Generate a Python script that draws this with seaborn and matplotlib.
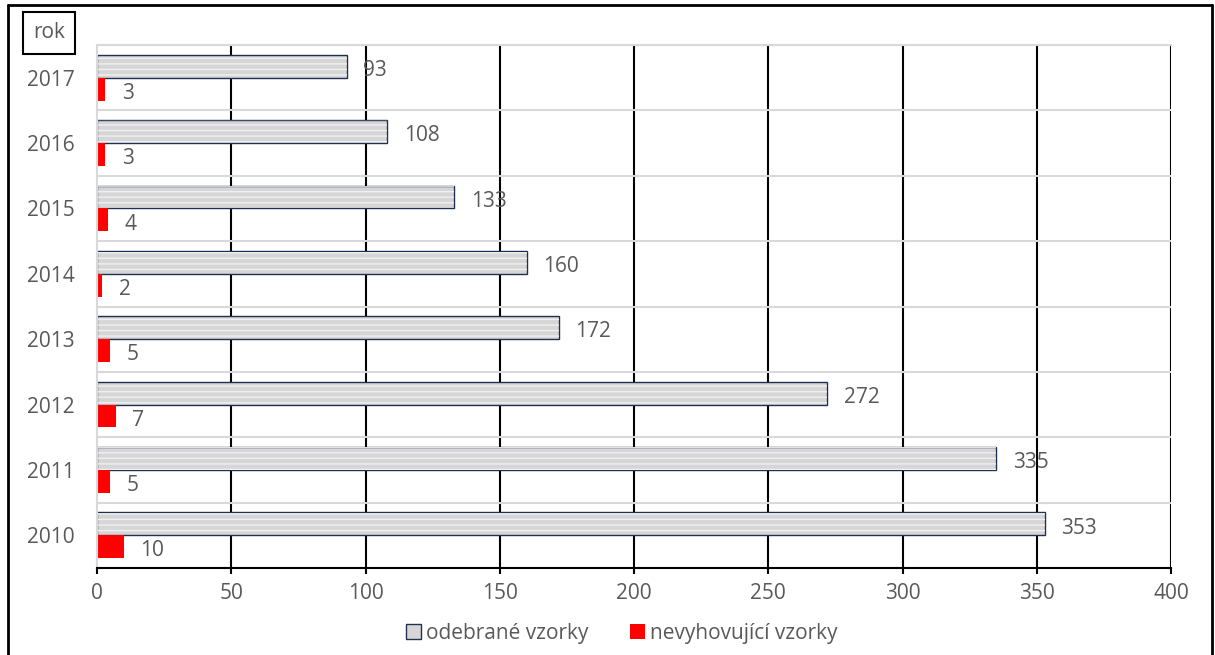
"""
odebrané a nevyhovující vzorky podle roku
"""
import pandas as pd
import matplotlib.pyplot as plt
import seaborn as sns
from matplotlib.patches import Patch, Rectangle
from matplotlib.lines import Line2D

# data
years = ['2017', '2016', '2015', '2014', '2013', '2012', '2011', '2010']
odebrane = [93, 108, 133, 160, 172, 272, 335, 353]
nevyhovujici = [3, 3, 4, 2, 5, 7, 5, 10]
series = ['odebrané vzorky', 'nevyhovující vzorky']
x_ticks = [0, 50, 100, 150, 200, 250, 300, 350, 400]

df = pd.concat([
    pd.DataFrame({'rok': years, 'serie': series[0], 'pocet': odebrane}),
    pd.DataFrame({'rok': years, 'serie': series[1], 'pocet': nevyhovujici}),
], ignore_index=True)

sns.set_style('white')
plt.rcParams['font.family'] = ['Open Sans', 'DejaVu Sans']
TXT = '#595959'
GRAY = '#d6d6d6'
EDGE = '#203050'
FS = 15

fig = plt.figure(figsize=(12.15, 6.55), dpi=100)
ax = fig.add_axes([97 / 1215, 1 - 568 / 655, (1171 - 97) / 1215, (568 - 45) / 655])

sns.barplot(data=df, y='rok', x='pocet', hue='serie', order=years, hue_order=series,
            palette=[GRAY, 'red'], width=0.7, orient='h', ax=ax, legend=False,
            saturation=1, errorbar=None)

# textura šedých sloupců
for p in ax.containers[0]:
    p.set_edgecolor(EDGE)
    p.set_linewidth(1)
    ax.add_patch(Rectangle(p.get_xy(), p.get_width(), p.get_height(), fill=False,
                           hatch='---', edgecolor='#f0f0f0', linewidth=0, zorder=p.get_zorder() + 0.1))
for p in ax.containers[1]:
    p.set_edgecolor('none')

for c in ax.containers:
    for t in ax.bar_label(c, padding=12, color=TXT, fontsize=FS):
        t.xyann = (12, -3)

ax.set_xlim(0, 400)
ax.set_ylim(len(years) - 0.5, -0.5)
ax.set_xticks(x_ticks)
ax.set_yticks(range(len(years)))
ax.set_yticks([i - 0.5 for i in range(len(years) + 1)], minor=True)
ax.grid(axis='x', color='black', linewidth=1.5)
ax.xaxis.get_gridlines()[0].set_visible(False)
ax.grid(axis='y', which='minor', color='#d9d9d9', linewidth=1.5)
ax.grid(axis='y', which='major', visible=False)
ax.set_axisbelow(True)

ax.set_xlabel('')
ax.set_ylabel('')
ax.tick_params(axis='x', which='major', direction='out', length=4.5, width=1.5, color='black',
               labelsize=FS, labelcolor=TXT, pad=6, bottom=True)
ax.tick_params(axis='y', which='both', length=0, labelsize=FS, labelcolor=TXT, pad=16)

for s in ['left', 'top']:
    ax.spines[s].set_color('#d9d9d9')
    ax.spines[s].set_linewidth(1.5)
ax.spines['right'].set_visible(False)
ax.spines['bottom'].set_color('black')
ax.spines['bottom'].set_linewidth(1.5)

# popisek osy v rámečku
fig.text(49 / 1215, 1 - 33 / 655, 'rok', ha='center', va='center', fontsize=FS, color=TXT,
         bbox=dict(boxstyle='square,pad=0.5', facecolor='white', edgecolor='black', linewidth=1.5))

# legenda
handles = [Patch(facecolor=GRAY, edgecolor=EDGE, linewidth=1),
           Patch(facecolor='red', edgecolor='none')]
fig.legend(handles, series, loc='center', bbox_to_anchor=(622 / 1215, 1 - 633 / 655), ncol=2,
           frameon=False, fontsize=FS, labelcolor=TXT, handlelength=0.7, handleheight=0.7,
           handletextpad=0.25, columnspacing=2.0)

# vnější rámeček
fx, fr, ft = 8 / 1215, 1212 / 1215, 1 - 5 / 655
for xs, ys in [([fx, fx], [0, ft]), ([fx, fr], [ft, ft]), ([fr, fr], [0, ft])]:
    fig.add_artist(Line2D(xs, ys, color='black', linewidth=2, transform=fig.transFigure))

fig.savefig('out.png', dpi=100)
plt.close(fig)
print('[DONE]')
